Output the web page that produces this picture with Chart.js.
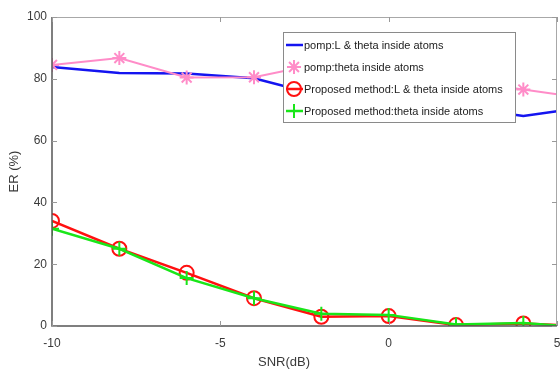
<!DOCTYPE html>
<html>
<head>
<meta charset="utf-8">
<script src="https://cdn.jsdelivr.net/npm/chart.js@4/dist/chart.umd.min.js"></script>
<style>
  html, body { margin: 0; padding: 0; background: #fff; }
  #wrap { width: 560px; height: 372px; }
</style>
</head>
<body>
<div id="wrap"><canvas id="chart" width="560" height="372"></canvas></div>
<script>
// SNR sweep, error rate (%) per method
const snr = [-10, -8, -6, -4, -2, 0, 2, 4, 5];
const pompLTheta = [83.8, 81.9, 81.7, 80.2, 74.5, 72.5, 71, 68, 69.5];
const pompTheta = [84.5, 86.7, 80.4, 80.5, 85, 83, 79.5, 76.5, 75];
const propLTheta = [34, 25, 17.2, 9, 3, 3.2, 0.3, 0.8, 0.3];
const propTheta = [31.5, 25, 15.5, 9, 4, 3.6, 0.5, 1, 0.2];

const xTicks = [-10, -5, 0, 5];
const yTicks = [0, 20, 40, 60, 80, 100];

const seriesLabels = [
  'pomp:L & theta inside atoms',
  'pomp:theta inside atoms',
  'Proposed method:L & theta inside atoms',
  'Proposed method:theta inside atoms',
];

const FONT = '"Liberation Sans", Arial, sans-serif';
const AXIS_TEXT = '#3a3a3a';

const toPoints = ys => snr.map((x, i) => ({ x, y: ys[i] }));
// last sample (x = 5) has no marker in the figure
const markerSizes = r => snr.map((_, i) => i < snr.length - 1 ? r : 0);

// axes box, inward ticks and axis titles, MATLAB style
const axesBox = {
  id: 'axesBox',
  afterDraw(chart) {
    const { ctx, chartArea: a, scales: { x, y } } = chart;
    ctx.save();
    ctx.lineWidth = 1;
    ctx.strokeStyle = '#a8a8a8';
    ctx.beginPath();
    ctx.moveTo(a.left, a.top + 0.5); ctx.lineTo(a.right, a.top + 0.5);
    ctx.moveTo(a.right - 0.5, a.top); ctx.lineTo(a.right - 0.5, a.bottom);
    ctx.stroke();
    ctx.lineWidth = 1.5;
    ctx.strokeStyle = '#555';
    ctx.beginPath();
    ctx.moveTo(a.left, a.top); ctx.lineTo(a.left, a.bottom);
    ctx.lineTo(a.right, a.bottom);
    ctx.stroke();

    ctx.lineWidth = 1;
    ctx.strokeStyle = '#999';
    ctx.beginPath();
    yTicks.forEach(v => {
      const py = Math.round(y.getPixelForValue(v)) + 0.5;
      ctx.moveTo(a.left, py); ctx.lineTo(a.left + 5, py);
      ctx.moveTo(a.right, py); ctx.lineTo(a.right - 5, py);
    });
    xTicks.forEach(v => {
      const px = Math.round(x.getPixelForValue(v)) + 0.5;
      ctx.moveTo(px, a.bottom); ctx.lineTo(px, a.bottom - 5);
      ctx.moveTo(px, a.top); ctx.lineTo(px, a.top + 5);
    });
    ctx.stroke();

    ctx.fillStyle = AXIS_TEXT;
    ctx.font = `13px ${FONT}`;
    ctx.textAlign = 'center';
    ctx.textBaseline = 'middle';
    ctx.fillText('SNR(dB)', 284, 362);
    ctx.translate(14, (a.top + a.bottom) / 2);
    ctx.rotate(-Math.PI / 2);
    ctx.fillText('ER (%)', 0, 0);
    ctx.restore();
  }
};

// legend box drawn inside the axes, upper right
const boxLegend = {
  id: 'boxLegend',
  afterDraw(chart) {
    const { ctx, chartArea: a } = chart;
    const left = 283, top = a.top + 15, w = 232, h = 90;
    ctx.save();
    ctx.fillStyle = '#fff';
    ctx.fillRect(left, top, w, h);
    ctx.strokeStyle = '#8a8a8a';
    ctx.lineWidth = 1;
    ctx.strokeRect(left + 0.5, top + 0.5, w, h);
    chart.data.datasets.forEach((ds, i) => {
      const cy = top + 13 + i * 22;
      const cx = left + 11;
      if (ds.legendLine) {
        ctx.strokeStyle = ds.borderColor;
        ctx.lineWidth = ds.borderWidth;
        ctx.beginPath();
        ctx.moveTo(left + 3, cy); ctx.lineTo(left + 20, cy);
        ctx.stroke();
      }
      if (ds.pointStyle && ds.legendMarker) {
        ctx.strokeStyle = ds.pointBorderColor;
        ctx.fillStyle = ds.pointBackgroundColor;
        ctx.lineWidth = ds.pointBorderWidth;
        Chart.helpers.drawPoint(ctx, {
          pointStyle: ds.pointStyle,
          radius: ds.legendMarker,
          rotation: 0,
          borderWidth: ds.pointBorderWidth,
        }, cx, cy);
      }
      ctx.fillStyle = '#222';
      ctx.font = `11px ${FONT}`;
      ctx.textAlign = 'left';
      ctx.textBaseline = 'middle';
      ctx.fillText(seriesLabels[i], left + 21, cy + 1);
    });
    ctx.restore();
  }
};

new Chart(document.getElementById('chart'), {
  type: 'line',
  data: {
    datasets: [
      {
        data: toPoints(pompLTheta), borderColor: '#1414f0', borderWidth: 2.5,
        pointRadius: 0, order: 3, legendLine: true,
      },
      {
        data: toPoints(pompTheta), borderColor: '#ff8cc8', borderWidth: 2,
        pointStyle: 'star', pointRadius: markerSizes(7), pointBorderWidth: 2,
        pointBorderColor: '#ff8cc8', pointBackgroundColor: '#ff8cc8',
        order: 2, legendMarker: 7,
      },
      {
        data: toPoints(propLTheta), borderColor: '#ff1010', borderWidth: 2.5,
        pointStyle: 'circle', pointRadius: markerSizes(7), pointBorderWidth: 2,
        pointBorderColor: '#ff1010', pointBackgroundColor: 'rgba(0,0,0,0)',
        order: 1, legendLine: true, legendMarker: 7,
      },
      {
        data: toPoints(propTheta), borderColor: '#19e619', borderWidth: 2.5,
        pointStyle: 'cross', pointRadius: markerSizes(7), pointBorderWidth: 2,
        pointBorderColor: '#19e619', pointBackgroundColor: '#19e619',
        order: 0, legendLine: true, legendMarker: 7,
      },
    ],
  },
  options: {
    responsive: false,
    animation: false,
    layout: { autoPadding: false, padding: { top: 17, right: 3, left: 0, bottom: 0 } },
    elements: { line: { tension: 0 } },
    plugins: { legend: { display: false }, tooltip: { enabled: false } },
    scales: {
      x: {
        type: 'linear', min: -10, max: 5,
        afterBuildTicks: s => { s.ticks = xTicks.map(value => ({ value })); },
        afterFit: s => { s.height = 46; s.paddingLeft = 0; s.paddingRight = 0; },
        grid: { display: false, drawTicks: false },
        border: { display: false },
        ticks: { color: AXIS_TEXT, font: { size: 12, family: FONT }, padding: 10, maxRotation: 0 },
      },
      y: {
        min: 0, max: 100,
        afterBuildTicks: s => { s.ticks = yTicks.map(value => ({ value })); },
        afterFit: s => { s.width = 52; },
        grid: { display: false, drawTicks: false },
        border: { display: false },
        ticks: { color: AXIS_TEXT, font: { size: 12, family: FONT }, padding: 5 },
      },
    },
  },
  plugins: [axesBox, boxLegend],
});
</script>
</body>
</html>
